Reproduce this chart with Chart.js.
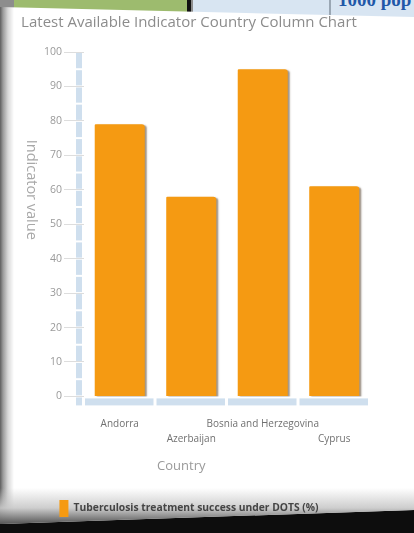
<!DOCTYPE html>
<html><head><meta charset="utf-8">
<script src="https://cdn.jsdelivr.net/npm/chart.js@4"></script>
<style>
html,body{margin:0;padding:0;width:414px;height:533px;overflow:hidden;background:#0d0d0d;position:relative}
.bgtop{position:absolute;left:0;top:0;width:414px;height:24px;background:#8d8d8d}
.green{position:absolute;left:14px;top:0;width:173px;height:14px;background:#9dbb6e}
.blk{position:absolute;left:187px;top:0;width:4px;height:18px;background:#111}
.lb{position:absolute;left:193px;top:0;width:136px;height:22px;background:#d8e5f2}
.sep{position:absolute;left:329px;top:0;width:2px;height:22px;background:#9aa7b4}
.lb2{position:absolute;left:331px;top:0;width:83px;height:24px;background:#d8e5f2}
.pop{position:absolute;left:338px;top:-11px;font:bold 19px 'Liberation Serif';color:#1f58a8;white-space:nowrap}
#card{position:absolute;left:0;top:0;width:414px;height:533px;
 background:
  linear-gradient(to bottom, rgba(255,255,255,0) 488px, rgba(200,200,200,0.9) 508px, #555 524px),
  linear-gradient(to right, #5e5e5e 0px, #9a9a9a 3px, #d8d8d8 8px, #fff 14px);
 clip-path:polygon(0px 7px,414px 17px,414px 510px,0px 524px)}
#wrap{position:absolute;left:0;top:0;width:414px;height:533px}
</style></head>
<body>
<div class="bgtop"></div><div class="green"></div><div class="blk"></div><div class="lb"></div><div class="sep"></div><div class="lb2"></div>
<div class="pop">1000 pop</div>
<div id="card"></div>
<div id="wrap"><canvas id="c" width="414" height="533"></canvas></div>
<script>
const chartTitle = 'Latest Available Indicator Country Column Chart';
const categories = ['Andorra', 'Azerbaijan', 'Bosnia and Herzegovina', 'Cyprus'];
const seriesName = 'Tuberculosis treatment success under DOTS (%)';
const values = [79, 58, 95, 61];
const yTitle = 'Indicator value';
const xTitle = 'Country';
const yMin = 0, yMax = 100, yStep = 10;

const tickLabels = categories.map((c, i) => i % 2 ? ['', c] : [c]);

const X_TITLE_SIZE = 13, X_TITLE_PAD = {top: -9, bottom: 10};

const decor = {
  id: 'decor',
  beforeDatasetsDraw(chart) {
    const ctx = chart.ctx, a = chart.chartArea, xs = chart.scales.x, ys = chart.scales.y;
    ctx.save();
    ctx.fillStyle = '#cfdfee';
    for (let v = yMin; v < yMax; v += yStep / 2) {
      const t = ys.getPixelForValue(v + yStep / 2), b = ys.getPixelForValue(v);
      ctx.fillRect(a.left - 8, t + 1, 6, (b - t) - 2);
    }
    ctx.fillRect(a.left - 8, a.bottom + 1, 6, 8);
    const step = xs.width / categories.length;
    categories.forEach((c, i) => {
      const cx = xs.getPixelForValue(i);
      ctx.fillRect(cx - step / 2 + 1, a.bottom + 2, step - 3, 7);
    });
    ctx.restore();
    ctx.save();
    ctx.shadowColor = 'rgba(80,60,40,0.55)';
    ctx.shadowOffsetX = 2;
    ctx.shadowOffsetY = 1;
    ctx.shadowBlur = 1.5;
  },
  afterDatasetsDraw(chart) {
    chart.ctx.restore();
  },
  afterDraw(chart) {
    const ctx = chart.ctx, a = chart.chartArea, xs = chart.scales.x;
    ctx.save();
    ctx.translate(31, a.top + a.height * 0.4);
    ctx.rotate(Math.PI / 2);
    ctx.font = '14.5px "Open Sans"';
    ctx.fillStyle = '#a8a8a8';
    ctx.textAlign = 'center';
    ctx.textBaseline = 'middle';
    ctx.fillText(yTitle, 0, 0);
    ctx.restore();
    ctx.save();
    ctx.font = X_TITLE_SIZE + 'px "Open Sans"';
    ctx.fillStyle = '#9a9a9a';
    ctx.textAlign = 'center';
    ctx.textBaseline = 'middle';
    ctx.fillText(xTitle, xs.getPixelForValue(1) - 10, xs.bottom - X_TITLE_PAD.bottom - X_TITLE_SIZE * 0.6);
    ctx.restore();
  }
};

new Chart(document.getElementById('c'), {
  type: 'bar',
  data: {
    labels: tickLabels,
    datasets: [{
      label: seriesName,
      data: values,
      backgroundColor: '#f59a12',
      borderRadius: {topLeft: 1, topRight: 3},
      borderSkipped: 'bottom',
      categoryPercentage: 0.7,
      barPercentage: 1
    }]
  },
  options: {
    responsive: false,
    animation: false,
    layout: {padding: {left: 8, right: 44, top: 12, bottom: 6}},
    plugins: {
      title: {
        display: true, text: chartTitle, color: '#8c8c8c',
        font: {family: 'Open Sans', size: 15, weight: 'normal'},
        padding: {top: 2, bottom: 20}
      },
      legend: {
        position: 'bottom', align: 'center',
        labels: {
          boxWidth: 9, boxHeight: 17, padding: 16, color: '#444',
          font: {family: 'Open Sans', size: 10.3, weight: 'bold'}
        }
      },
      tooltip: {enabled: false}
    },
    scales: {
      y: {
        min: yMin, max: yMax,
        ticks: {stepSize: yStep, color: '#9a9a9a', padding: 2, font: {family: 'Open Sans', size: 10.5}},
        grid: {drawOnChartArea: false, tickLength: 20, color: '#dddddd', tickWidth: 1},
        border: {display: false},
        afterFit(s) { s.width = 76; }
      },
      x: {
        grid: {display: false, drawTicks: false},
        border: {display: false},
        ticks: {color: '#707070', padding: 20, maxRotation: 0, autoSkip: false,
          font: {family: 'Open Sans', size: 10, lineHeight: 1.55}},
        title: {display: true, text: xTitle, color: 'rgba(0,0,0,0)',
          font: {family: 'Open Sans', size: X_TITLE_SIZE}, padding: X_TITLE_PAD}
      }
    }
  },
  plugins: [decor]
});
</script>
</body></html>
